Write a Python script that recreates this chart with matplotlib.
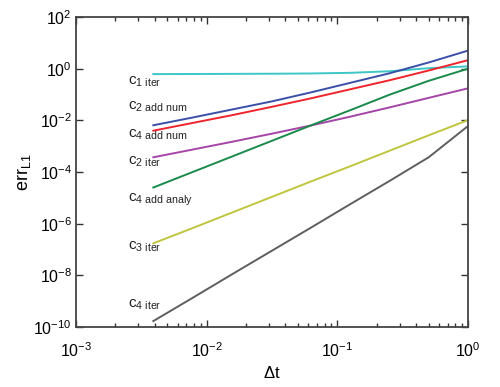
import numpy as np
import matplotlib
matplotlib.use("Agg")
import matplotlib.pyplot as plt
from matplotlib.ticker import LogLocator, FixedLocator, NullLocator

plt.rcParams['font.family'] = ['Liberation Sans', 'DejaVu Sans']
plt.rcParams['mathtext.fontset'] = 'custom'
plt.rcParams['mathtext.rm'] = 'Liberation Sans'
plt.rcParams['mathtext.it'] = 'Liberation Sans'

# time steps dt = 2^-k
dt = np.array([1/256, 1/128, 1/64, 1/32, 1/16, 1/8, 1/4, 1/2, 1.0])

# log10 of L1 errors
c1_iter = [-0.21, -0.205, -0.20, -0.195, -0.185, -0.16, -0.10, 0.02, 0.09]
c2_add_num = [-2.19, -1.89, -1.58, -1.27, -0.92, -0.55, -0.18, 0.24, 0.70]
c4_add_num = [-2.40, -2.10, -1.80, -1.48, -1.15, -0.80, -0.45, -0.07, 0.33]
c2_iter = [-3.43, -3.13, -2.83, -2.52, -2.20, -1.86, -1.50, -1.13, -0.76]
c4_add_analy = [-4.60, -4.00, -3.40, -2.80, -2.20, -1.61, -1.01, -0.47, 0.0]
c3_iter = [-6.76, -6.17, -5.57, -4.97, -4.37, -3.78, -3.18, -2.58, -1.99]
c4_iter = [-9.77, -8.87, -7.96, -7.06, -6.16, -5.25, -4.35, -3.43, -2.22]

series = [c1_iter, c2_add_num, c4_add_num, c2_iter, c4_add_analy, c3_iter, c4_iter]
colors = ['#3cc6c6', '#3a4fa8', '#f0242c', '#a545a8', '#1a8a4a', '#bfc63e', '#5e5e5e']
labels = [r'$\mathrm{c}_{1\ \mathrm{iter}}$', r'$\mathrm{c}_{2\ \mathrm{add\ num}}$',
          r'$\mathrm{c}_{4\ \mathrm{add\ num}}$', r'$\mathrm{c}_{2\ \mathrm{iter}}$',
          r'$\mathrm{c}_{4\ \mathrm{add\ analy}}$', r'$\mathrm{c}_{3\ \mathrm{iter}}$',
          r'$\mathrm{c}_{4\ \mathrm{iter}}$']
label_y = [-0.63, -1.60, -2.68, -3.73, -5.14, -6.99, -9.24]
label_x = 0.0025

fig = plt.figure(figsize=(5, 3.87), dpi=100)
ax = fig.add_axes([0.152, 0.155, 0.784, 0.801])

for s, c in zip(series, colors):
    ax.plot(dt, 10.0 ** np.array(s), color=c, lw=1.4)

for lab, ly in zip(labels, label_y):
    ax.text(label_x, 10.0 ** ly, lab, fontsize=11, va='baseline', ha='left', color='#222222')

ax.set_xscale('log')
ax.set_yscale('log')
ax.set_xlim(1e-3, 1)
ax.set_ylim(1e-10, 1e2)

ax.yaxis.set_major_locator(FixedLocator([10.0 ** k for k in range(-10, 3, 2)]))
ax.yaxis.set_minor_locator(NullLocator())
ax.xaxis.set_major_locator(LogLocator(base=10, numticks=10))
ax.xaxis.set_minor_locator(LogLocator(base=10, subs=np.arange(2, 10), numticks=10))

ax.tick_params(which='both', direction='in', top=True, right=True, labelsize=11.5,
               color='#333333', width=1.0)
ax.tick_params(which='major', length=5)
ax.tick_params(which='minor', length=3)
ax.tick_params(axis='x', which='major', pad=10)
ax.tick_params(axis='y', which='major', pad=3)
for sp in ax.spines.values():
    sp.set_color('#444444')
    sp.set_linewidth(1.3)

ax.set_xlabel(r'$\Delta\mathrm{t}$', fontsize=12, labelpad=4)
ax.set_ylabel(r'$\mathrm{err}_{\mathrm{L1}}$', fontsize=13, labelpad=0)

fig.savefig('out.png', dpi=100)
